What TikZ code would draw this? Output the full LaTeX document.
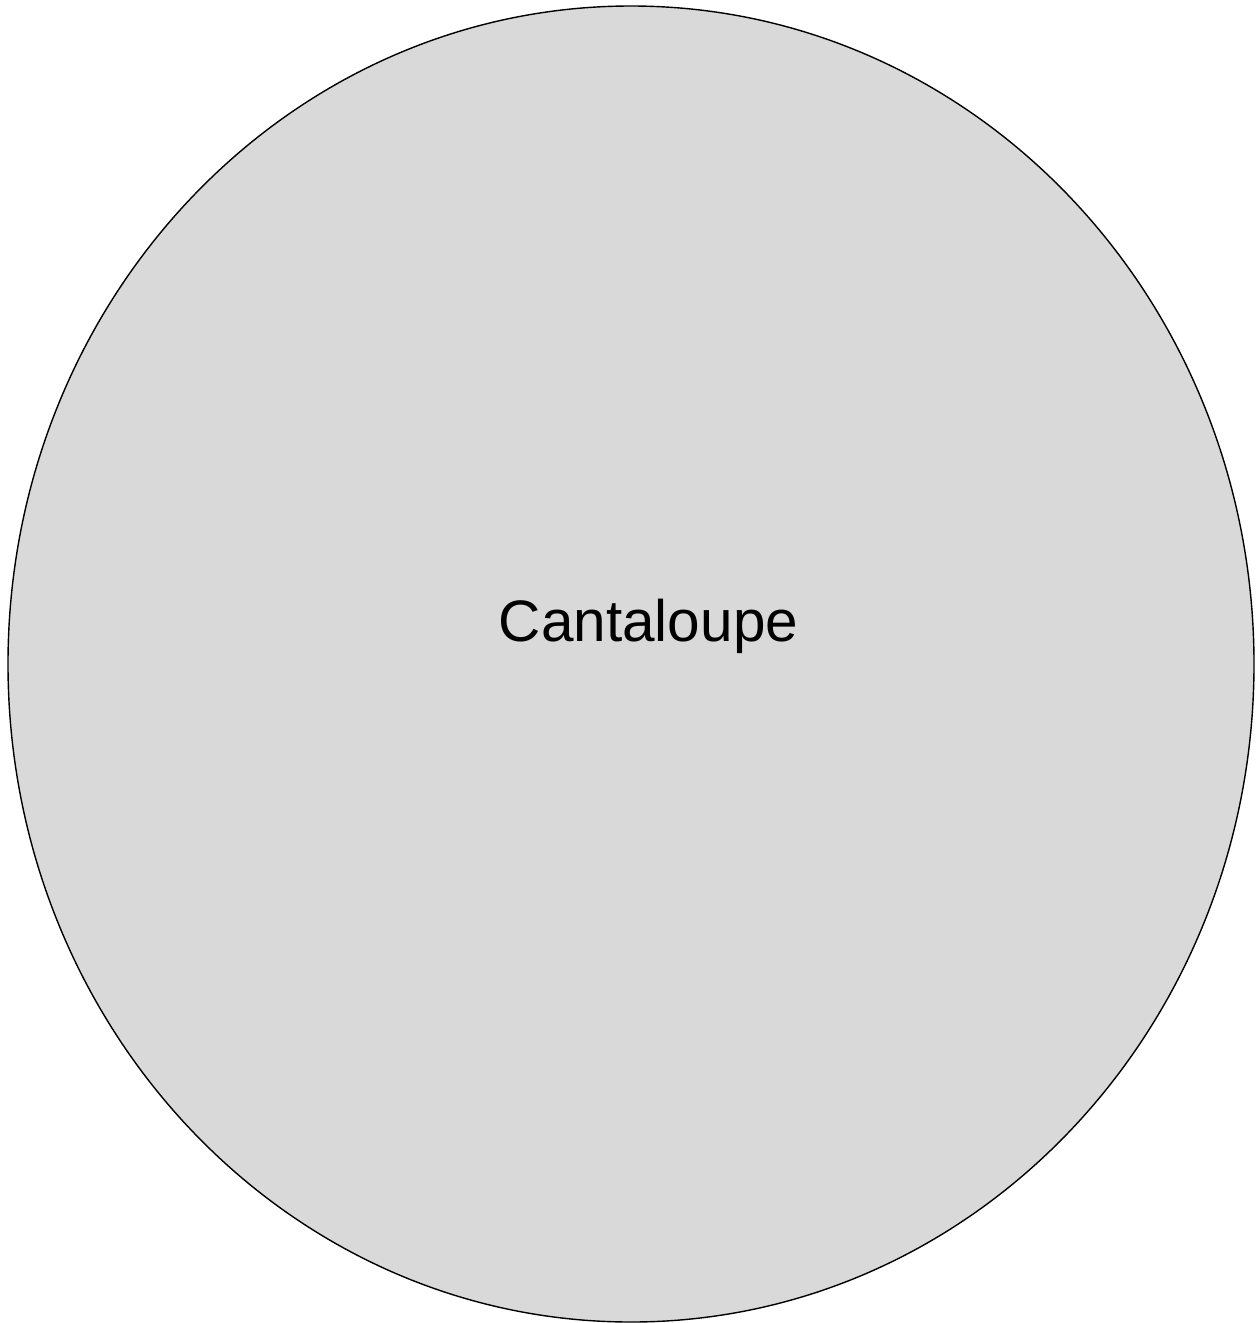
\documentclass[tikz,border=0pt]{standalone}
\usepackage{fontspec}
\setmainfont{Liberation Sans}
\usetikzlibrary{shapes.geometric}
\begin{document}
\begin{tikzpicture}[x=1pt,y=-1pt,
  melon/.style={ellipse,draw=black,line width=1.4pt,fill={rgb,255:red,217;green,217;blue,217},inner sep=0pt,minimum width=1246pt,minimum height=1316pt},
  lbl/.style={font=\fontsize{58.5}{70}\selectfont,inner sep=0pt,anchor=base}]
\useasboundingbox (0,0) rectangle (1256,1323);
\node[melon] (m) at (631,664) {};
\node[lbl] (t) at (648.5,641.5) {Cantaloupe};
\end{tikzpicture}
\end{document}
